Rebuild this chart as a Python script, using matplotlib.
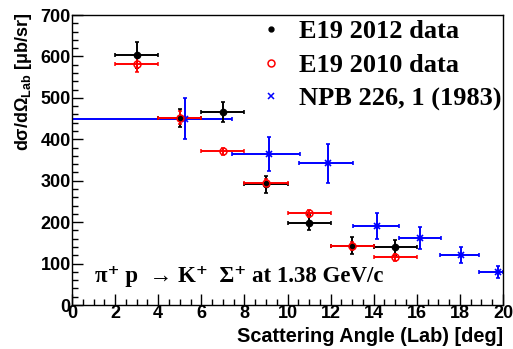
import matplotlib.pyplot as plt
from matplotlib.lines import Line2D
from matplotlib.ticker import MultipleLocator

# E19 2012 data
e12_x = [3, 5, 7, 9, 11, 13, 15]
e12_y = [603, 452, 465, 291, 199, 143, 139]
e12_yerr = [32, 22, 24, 20, 18, 20, 18]
e12_xerr = [1, 1, 1, 1, 1, 1, 1]

# E19 2010 data
e10_x = [3, 5, 7, 9, 11, 13, 15]
e10_y = [582, 452, 371, 295, 221, 143, 115]
e10_yerr = [20, 16, 8, 10, 8, 10, 8]
e10_xerr = [1, 1, 1, 1, 1, 1, 1]

# NPB 226, 1 (1983)
npb_x = [5.24, 9.14, 11.86, 14.15, 16.16, 18.04, 19.75]
npb_y = [450, 365, 342, 191, 162, 121, 80]
npb_yerr = [50, 41, 47, 32, 27, 19, 15]
npb_xlo = [5.24, 1.73, 1.33, 1.13, 0.99, 0.95, 0.86]
npb_xhi = [2.18, 1.46, 1.18, 1.04, 0.96, 0.86, 0.25]

plt.rcParams['font.family'] = ['Liberation Sans', 'DejaVu Sans']
plt.rcParams['font.weight'] = 'bold'
plt.rcParams['mathtext.fontset'] = 'custom'
plt.rcParams['mathtext.rm'] = 'Liberation Sans:bold'
plt.rcParams['mathtext.it'] = 'Liberation Sans:bold'
plt.rcParams['mathtext.bf'] = 'Liberation Sans:bold'

fig = plt.figure(figsize=(5.13, 3.49), dpi=100)
ax = fig.add_axes([0.1404, 0.126, 0.8401, 0.831])

ax.errorbar(npb_x, npb_y, yerr=npb_yerr, xerr=[npb_xlo, npb_xhi], fmt='x', color='#0000ff',
            ms=5, mew=1.2, elinewidth=1.4, capsize=1.5, capthick=1.2)
ax.errorbar(e12_x, e12_y, yerr=e12_yerr, xerr=e12_xerr, fmt='o', color='black',
            ms=4.5, elinewidth=1.4, capsize=1.5, capthick=1.2)
ax.errorbar(e10_x, e10_y, yerr=e10_yerr, xerr=e10_xerr, fmt='o', color='#ff0000', mfc='none',
            ms=5, mew=1.1, elinewidth=1.4, capsize=1.5, capthick=1.2)

ax.set_xlim(0, 20)
ax.set_ylim(0, 700)
ax.xaxis.set_major_locator(MultipleLocator(2))
ax.xaxis.set_minor_locator(MultipleLocator(0.5))
ax.yaxis.set_major_locator(MultipleLocator(100))
ax.yaxis.set_minor_locator(MultipleLocator(20))
ax.tick_params(which='both', direction='in', top=False, right=False)
ax.tick_params(which='major', length=8, width=1, labelsize=13, pad=1)
ax.tick_params(axis='x', which='major', pad=0)
ax.tick_params(which='minor', length=4, width=1)
for s in ax.spines.values():
    s.set_linewidth(1)

ax.set_xlabel('Scattering Angle (Lab) [deg]', fontsize=14.3, fontweight='bold')
ax.xaxis.set_label_coords(1.0, -0.075)
ax.xaxis.label.set_ha('right')
ax.set_ylabel(r'd$\sigma$/d$\Omega_{\mathregular{Lab}}$ [$\mu$b/sr]', fontsize=13, fontweight='bold')
ax.yaxis.set_label_coords(-0.112, 1.01)
ax.yaxis.label.set_ha('right')
ax.yaxis.label.set_va('center')

handles = [
    Line2D([], [], ls='none', marker='o', color='black', ms=3.5),
    Line2D([], [], ls='none', marker='o', color='#ff0000', mfc='none', ms=5, mew=1.1),
    Line2D([], [], ls='none', marker='x', color='#0000ff', ms=4.5, mew=1.1),
]
labels = ['E19 2012 data', 'E19 2010 data', 'NPB 226, 1 (1983)']
ax.legend(handles, labels, loc='upper left', bbox_to_anchor=(258 / 513, 1 - 20 / 349),
          bbox_transform=fig.transFigure, frameon=False, borderpad=0, borderaxespad=0,
          prop={'family': 'Liberation Serif', 'weight': 'bold', 'size': 19},
          handlelength=1.0, handletextpad=0.55, labelspacing=0.38)

ax.text(1.05, 55, 'π⁺ p  → K⁺  Σ⁺ at 1.38 GeV/c',
        fontsize=16.5, family=['Liberation Serif', 'DejaVu Serif'], fontweight='bold')

fig.savefig('out.png', dpi=100)
